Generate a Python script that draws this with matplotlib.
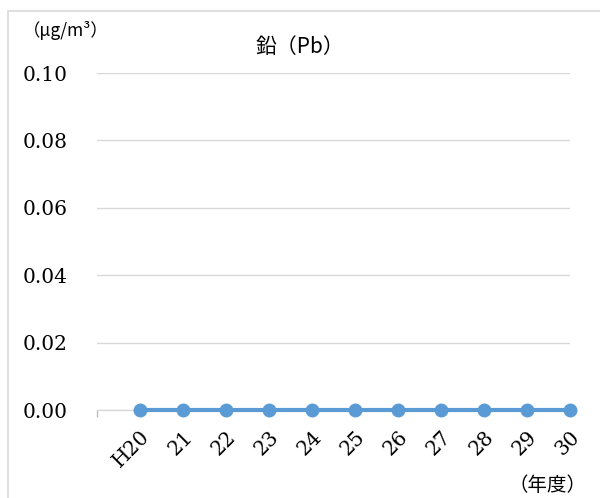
import matplotlib
matplotlib.use("Agg")
import matplotlib.pyplot as plt
from matplotlib.patches import Rectangle
from matplotlib.transforms import ScaledTranslation

# データ
years = ["H20", "21", "22", "23", "24", "25", "26", "27", "28", "29", "30"]
values = [0.00, 0.00, 0.00, 0.00, 0.00, 0.00, 0.00, 0.00, 0.00, 0.00, 0.00]
yticks = [0.00, 0.02, 0.04, 0.06, 0.08, 0.10]

cjk = ["Noto Sans CJK JP", "DejaVu Sans"]
serif = ["DejaVu Serif"]

fig = plt.figure(figsize=(6.0, 4.98), dpi=100)
ax = fig.add_axes([97 / 600, 1 - 410 / 498, 473 / 600, 337 / 498])

# 枠線
fig.patches.append(Rectangle((8 / 600, -0.1), 1.1, 1 - 11 / 498 + 0.1,
                             transform=fig.transFigure, fill=False,
                             edgecolor="#D9D9D9", linewidth=1.2))

x = list(range(len(years)))
ax.plot(x, values, color="#5B9BD5", linewidth=3, marker="o",
        markersize=9, zorder=5, clip_on=False)

ax.set_xlim(-1, len(years) - 1)
ax.set_ylim(0, 0.10)
ax.set_yticks(yticks)
ax.set_yticklabels([f"{v:.2f}" for v in yticks], fontfamily=serif, fontsize=14.5)
ax.grid(axis="y", color="#D9D9D9", linewidth=1)
ax.tick_params(axis="y", length=0, pad=21)

ax.set_xticks(x)
ax.set_xticklabels(years, rotation=45, ha="right", va="center",
                   rotation_mode="anchor", fontfamily=serif, fontsize=14.5)
ax.tick_params(axis="x", length=0, pad=17)
shift = ScaledTranslation(7 / 100, 0, fig.dpi_scale_trans)
for lab in ax.get_xticklabels():
    lab.set_transform(lab.get_transform() + shift)
ax.set_xticks([-1], minor=True)
ax.tick_params(axis="x", which="minor", length=5, color="#BFBFBF", width=1)

for side in ["left", "right", "top"]:
    ax.spines[side].set_visible(False)
ax.spines["bottom"].set_color("#D9D9D9")
ax.spines["bottom"].set_linewidth(1)
ax.set_axisbelow(True)

fig.text(300 / 600, 1 - 47 / 498, "鉛（Pb）", fontfamily=cjk, fontsize=15,
         ha="center", va="center")
fig.text(23 / 600, 1 - 31 / 498, "（μg/m³）", fontfamily=cjk, fontsize=12.5,
         ha="left", va="center")
fig.text(586 / 600, 1 - 485 / 498, "（年度）", fontfamily=cjk, fontsize=14,
         ha="right", va="center")

fig.savefig("out.png", dpi=100)
